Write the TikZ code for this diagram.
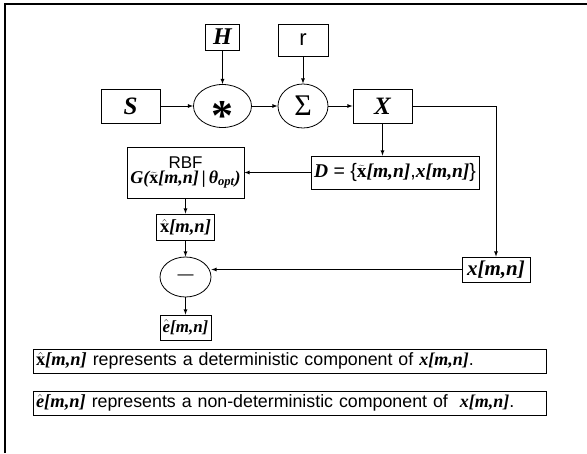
\documentclass[tikz,border=0pt]{standalone}
\usepackage{fontspec}
\setmainfont{Liberation Sans}
\newfontfamily\serifbi{Liberation Serif}
\usetikzlibrary{shapes.geometric}
\newcommand{\mv}[1]{{\serifbi\bfseries\itshape #1}}
\newcommand{\tx}{\ensuremath{\widetilde{\hbox{\serifbi\bfseries x}}}}
\newcommand{\hx}{\ensuremath{\hat{\hbox{\serifbi\bfseries x}}}}
\newcommand{\he}{\ensuremath{\hat{\hbox{\serifbi\bfseries\itshape e}}}}
\newcommand{\mn}{\mv{[m,n]}}
\newcommand{\fs}[1]{\fontsize{#1}{#1}\selectfont}
\newcommand{\convsym}{\raisebox{-0.56em}[0pt][0pt]{\serifbi\bfseries *}}

\begin{document}
\begin{tikzpicture}[x=1pt, y=-1pt, line width=0.8pt, >=latex,
	blk/.style = {draw, rectangle, inner sep=0pt},
	op/.style = {draw, ellipse, inner sep=0pt},
	note/.style = {draw, rectangle, inner sep=3pt, text width=507pt, align=left, minimum height=24pt, font=\fs{17.8}}]
	\useasboundingbox (0,0) rectangle (587,453);
	\draw[line width=2.5pt] (5,453) -- (5,4) -- (587,4);
	% top row
	\node[blk, minimum width=59pt, minimum height=34pt, font=\fs{25}] (S) at (130.5,106) {\mv{S}};
	\node[op, minimum width=58pt, minimum height=43pt, font=\fs{44}, right of=S, node distance=92pt] (conv) {\convsym};
	\node[op, minimum width=50pt, minimum height=44pt, font=\fs{30}, right of=conv, node distance=80.5pt] (sum) {{\serifbi Σ}};
	\node[blk, minimum width=59pt, minimum height=34pt, font=\fs{25}, right of=sum, node distance=79.5pt] (X) {\mv{X}};
	\node[blk, minimum width=34pt, minimum height=26pt, font=\fs{24}, above of=conv, node distance=69pt] (H) {\mv{H}};
	\node[blk, minimum width=50pt, minimum height=32pt, font=\fs{22}, above of=sum, node distance=66pt] (r) {r};
	% model
	\node[blk, minimum width=168pt, minimum height=33pt, font=\fs{19.5}] (D) at (395,172.5) {\mv{D} = \{\tx\mn,\mv{x}\mn\}};
	\node[blk, minimum width=117pt, minimum height=51pt, align=center] (rbf) at (185.5,172.5) {{\fs{17}RBF}\\[1pt]{\fs{18}\mv{G(}\tx\mv{[m,n]\,|\,θ}\textsubscript{\mv{opt}}\mv{)}}};
	\node[blk, minimum width=58pt, minimum height=26pt, font=\fs{18.5}, below of=rbf, node distance=54.5pt] (xhat) {\hx\mn};
	\node[op, minimum width=51pt, minimum height=40pt, font=\fs{16}, below of=xhat, node distance=50pt] (diff) {—};
	\node[blk, minimum width=51pt, minimum height=25pt, font=\fs{17}, below of=diff, node distance=50.5pt] (ehat) {\he\mn};
	\node[blk, minimum width=68pt, minimum height=25pt, font=\fs{21}] (xmn) at (496,269.5) {\mv{x}\mn};
	% notes
	\node[note] (n1) at (289.5,361) {{\fs{18.5}\hx\mn} represents a deterministic component of {\fs{18}\mv{x}\mn}.};
	\node[note, below of=n1, node distance=42pt] (n2) {{\fs{18.5}\he\mn} represents a non-deterministic component of \ {\fs{18}\mv{x}\mn}.};
	% connections
	\draw[->] (S) -- (conv);
	\draw[->] (conv) -- (sum);
	\draw[->] (sum) -- (X);
	\draw[->] (H) -- (conv);
	\draw[->] (r) -- (sum);
	\draw[->] (X.south) -- (X.south |- D.north);
	\draw[->] (X.east) -| (xmn.north);
	\draw[->] (D) -- (rbf);
	\draw[->] (rbf) -- (xhat);
	\draw[->] (xhat) -- (diff);
	\draw[->] (diff) -- (ehat);
	\draw[->] (xmn.west) -- (xmn.west -| diff.east);
\end{tikzpicture}
\end{document}
